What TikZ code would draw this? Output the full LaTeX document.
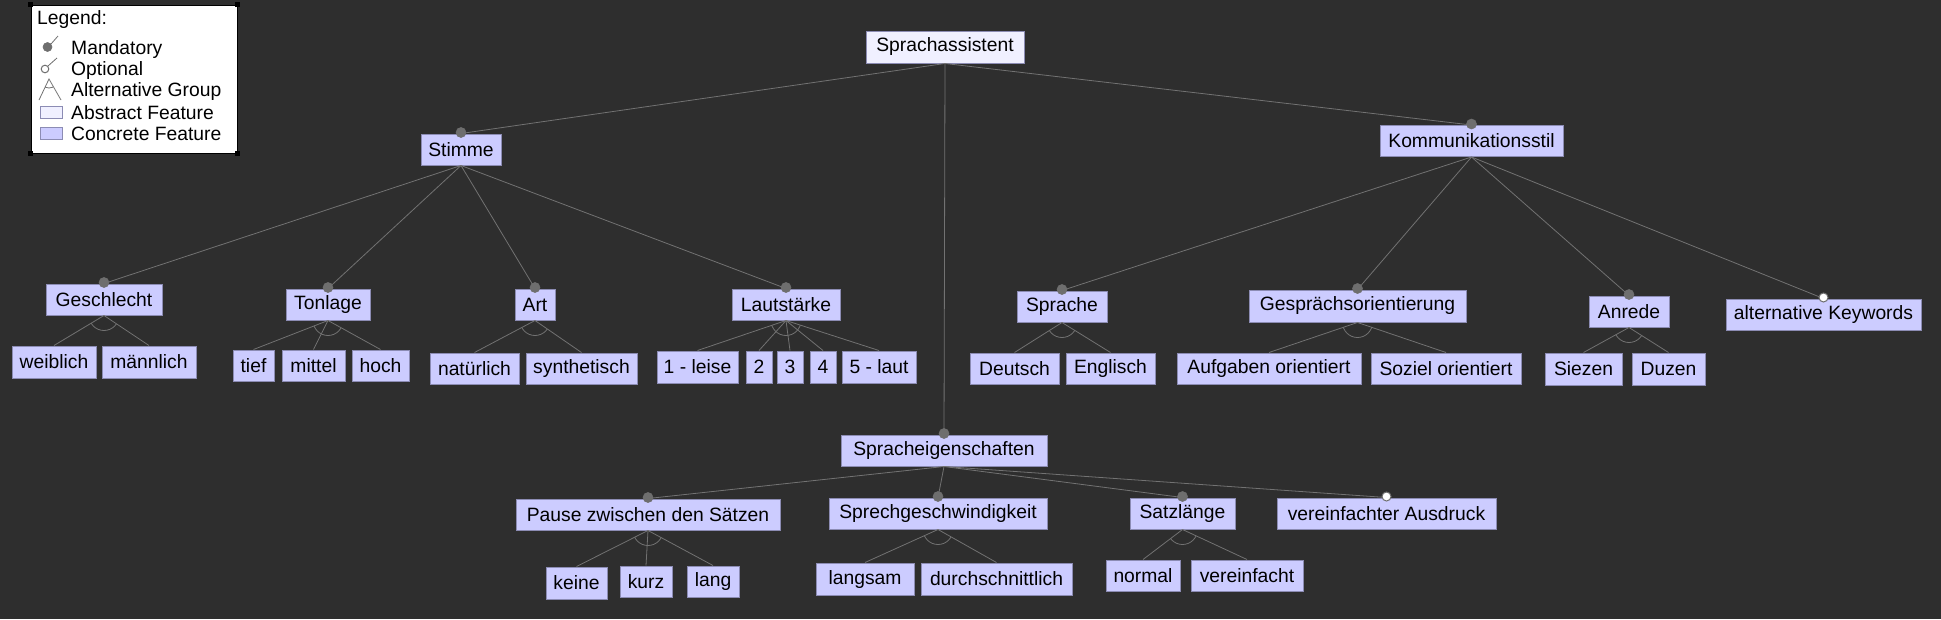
\documentclass[tikz,border=0pt]{standalone}
\usepackage{fontspec}
\setmainfont{Liberation Sans}
\definecolor{bg}{HTML}{2E2E2E}
\definecolor{concrete}{HTML}{CCCCFF}
\definecolor{abstractc}{HTML}{F0F0FF}
\definecolor{boxline}{HTML}{8C8CB4}
\definecolor{edgec}{HTML}{727272}
\definecolor{dotc}{HTML}{6E6E6E}
\tikzset{
  feat/.style={draw=boxline, line width=1pt, fill=concrete, inner sep=0pt, minimum height=31pt, font=\fontsize{19.3}{22}\selectfont, text=black},
  absfeat/.style={feat, fill=abstractc},
  edge/.style={draw=edgec, line width=0.8pt},
  mand/.style={fill=dotc, draw=dotc, line width=0.6pt},
  opt/.style={fill=white, draw=dotc, line width=1pt},
  legtext/.style={anchor=west, inner sep=0pt, font=\fontsize{19.3}{22}\selectfont, text=black}
}
\newcommand{\altarc}[3]{%
  \begin{scope}
    \clip (#1.south) -- ($(#1.south)!4!(#2.north)$) -- ($(#1.south)!4!(#3.north)$) -- cycle;
    \draw[edge] (#1.south) circle (15);
  \end{scope}}
\usetikzlibrary{calc}
\begin{document}
\begin{tikzpicture}[x=1pt,y=-1pt]
\useasboundingbox (0,0) rectangle (1941,619);
\fill[bg] (0,0) rectangle (1941,619);

% ---------- nodes ----------
\node[absfeat, minimum width=158pt, minimum height=32pt] (root) at (945,47) {Sprachassistent};
\node[feat, minimum width=80pt] (stimme) at (461,149.5) {Stimme};
\node[feat, minimum width=183pt] (komm) at (1471.5,141) {Kommunikationsstil};
\node[feat, minimum width=206pt] (spreig) at (944,450.5) {Spracheigenschaften};

\node[feat, minimum width=116pt] (geschl) at (104,299.5) {Geschlecht};
\node[feat, minimum width=84pt] (tonlage) at (328,304.5) {Tonlage};
\node[feat, minimum width=40pt] (art) at (535,304.5) {Art};
\node[feat, minimum width=108pt] (laut) at (786,304.5) {Lautstärke};

\node[feat, minimum width=84pt, minimum height=32pt] (weibl) at (54,362) {weiblich};
\node[feat, minimum width=94pt, minimum height=32pt] (maennl) at (149,362) {männlich};
\node[feat, minimum width=41pt] (tief) at (253.5,365.5) {tief};
\node[feat, minimum width=63pt] (mittel) at (313.5,365.5) {mittel};
\node[feat, minimum width=57pt] (hoch) at (380.5,365.5) {hoch};
\node[feat, minimum width=89pt] (natur) at (474.5,368.5) {natürlich};
\node[feat, minimum width=111pt] (synth) at (581.5,368.5) {synthetisch};
\node[feat, minimum width=81pt, minimum height=32pt] (l1) at (697.5,367) {1 - leise};
\node[feat, minimum width=26pt, minimum height=32pt] (l2) at (759,367) {2};
\node[feat, minimum width=26pt, minimum height=32pt] (l3) at (790,367) {3};
\node[feat, minimum width=26pt, minimum height=32pt] (l4) at (823,367) {4};
\node[feat, minimum width=74pt, minimum height=32pt] (l5) at (879,367) {5 - laut};

\node[feat, minimum width=90pt] (sprache) at (1062,306.5) {Sprache};
\node[feat, minimum width=217pt, minimum height=32pt] (gespr) at (1357.5,306) {Gesprächsorientierung};
\node[feat, minimum width=80pt] (anrede) at (1629,311.5) {Anrede};
\node[feat, minimum width=195pt] (altkw) at (1823.5,314.5) {alternative Keywords};

\node[feat, minimum width=89pt] (deutsch) at (1014.5,368.5) {Deutsch};
\node[feat, minimum width=89pt] (englisch) at (1110.5,368.5) {Englisch};
\node[feat, minimum width=184pt] (aufg) at (1269,368.5) {Aufgaben orientiert};
\node[feat, minimum width=150pt] (soziel) at (1446,368.5) {Soziel orientiert};
\node[feat, minimum width=77pt, minimum height=32pt] (siezen) at (1583.5,369) {Siezen};
\node[feat, minimum width=73pt, minimum height=32pt] (duzen) at (1668.5,369) {Duzen};

\node[feat, minimum width=264pt] (pause) at (648,514.5) {Pause zwischen den Sätzen};
\node[feat, minimum width=218pt] (sprech) at (938,513.5) {Sprechgeschwindigkeit};
\node[feat, minimum width=105pt] (satz) at (1182.5,513.5) {Satzlänge};
\node[feat, minimum width=219pt] (vereinfA) at (1386.5,513.5) {vereinfachter Ausdruck};

\node[feat, minimum width=61pt, minimum height=32pt] (keine) at (576.5,583) {keine};
\node[feat, minimum width=52pt] (kurz) at (646,581.5) {kurz};
\node[feat, minimum width=52pt] (lang) at (713,581.5) {lang};
\node[feat, minimum width=98pt, minimum height=32pt] (langsam) at (865,579) {langsam};
\node[feat, minimum width=151pt, minimum height=32pt] (durch) at (996.5,579) {durchschnittlich};
\node[feat, minimum width=74pt] (normal) at (1143,575.5) {normal};
\node[feat, minimum width=112pt] (vereinf) at (1247,575.5) {vereinfacht};

% ---------- edges ----------
\foreach \p/\c in {root/stimme, root/komm, root/spreig,
  stimme/geschl, stimme/tonlage, stimme/art, stimme/laut,
  komm/sprache, komm/gespr, komm/anrede, komm/altkw,
  spreig/pause, spreig/sprech, spreig/satz, spreig/vereinfA,
  geschl/weibl, geschl/maennl,
  tonlage/tief, tonlage/mittel, tonlage/hoch,
  art/natur, art/synth,
  laut/l1, laut/l2, laut/l3, laut/l4, laut/l5,
  sprache/deutsch, sprache/englisch,
  gespr/aufg, gespr/soziel,
  anrede/siezen, anrede/duzen,
  pause/keine, pause/kurz, pause/lang,
  sprech/langsam, sprech/durch,
  satz/normal, satz/vereinf}
  {\draw[edge] (\p.south) -- (\c.north);}

% ---------- alternative groups ----------
\altarc{geschl}{weibl}{maennl}
\altarc{tonlage}{tief}{hoch}
\altarc{art}{natur}{synth}
\altarc{laut}{l1}{l5}
\altarc{sprache}{deutsch}{englisch}
\altarc{gespr}{aufg}{soziel}
\altarc{anrede}{siezen}{duzen}
\altarc{pause}{keine}{lang}
\altarc{sprech}{langsam}{durch}
\altarc{satz}{normal}{vereinf}

% ---------- mandatory / optional dots ----------
\foreach \c in {stimme, komm, spreig, geschl, tonlage, art, laut, sprache, gespr, anrede, pause, sprech, satz}
  {\path[mand] ($(\c.north)+(0,-1)$) circle (5);}
\foreach \c in {altkw, vereinfA}
  {\path[opt] ($(\c.north)+(0,-1)$) circle (4.5);}

% ---------- legend ----------
\node[draw=black, line width=1pt, fill=white, minimum width=206pt, minimum height=148pt, inner sep=0pt] (legend) at (134,79) {};
\foreach \a in {north west, north east, south west, south east}
  {\fill[black] ($(legend.\a)+(-2.5,-2.5)$) rectangle ($(legend.\a)+(2.5,2.5)$);}
\node[legtext] (lgtitle) at (37,20) {Legend:};
\node[legtext] (lgmand) at (71,50) {Mandatory};
\node[legtext] (lgopt) at (71,71) {Optional};
\node[legtext] (lgalt) at (71,92) {Alternative Group};
\node[legtext] (lgabs) at (71,113) {Abstract Feature};
\node[legtext] (lgcon) at (71,134) {Concrete Feature};
\draw[edgec, line width=0.8pt] (51,44) -- (58,36);
\path[mand] (47.5,47) circle (4.5);
\draw[edgec, line width=0.8pt] (48,66) -- (57,58);
\path[opt] (45,69) circle (3.8);
\draw[edgec, line width=0.8pt] (39,100) -- (49,79) -- (61,100);
\begin{scope}
  \clip (49,79) -- (35,110) -- (65,110) -- cycle;
  \draw[edgec, line width=0.8pt] (49,79) circle (9);
\end{scope}
\draw[boxline, fill=abstractc, line width=0.8pt] (40,106) rectangle (62,118);
\draw[boxline, fill=concrete, line width=0.8pt] (40,127) rectangle (62,139);
\end{tikzpicture}
\end{document}
